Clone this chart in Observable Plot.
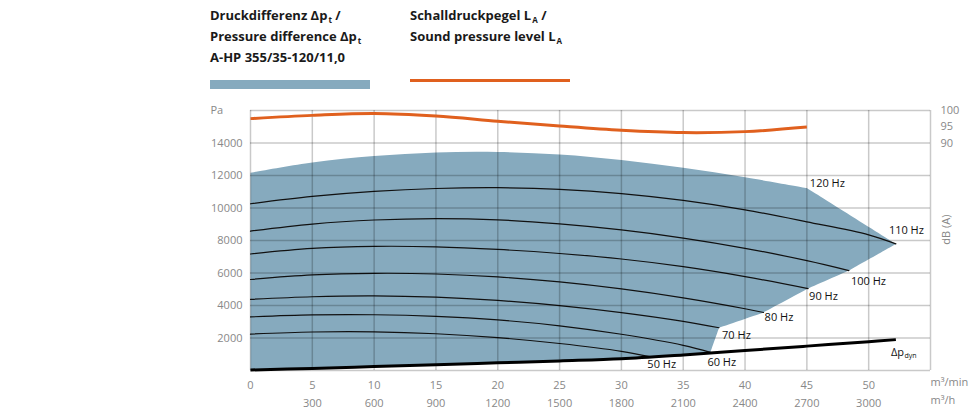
<!DOCTYPE html>
<html>
<head>
<meta charset="utf-8">
<script src="https://cdn.jsdelivr.net/npm/d3@7"></script>
<script src="https://cdn.jsdelivr.net/npm/@observablehq/plot@0.6"></script>
<style>
  body { margin: 0; background: #fff; font-family: "Open Sans", sans-serif; }
  #wrap { position: relative; width: 980px; height: 420px; overflow: hidden; }
  #legend { position: relative; width: 980px; height: 95px; }
  .lt { position: absolute; top: 5px; font-weight: 700; font-size: 13px; line-height: 21px; color: #1a1a1a; white-space: nowrap; }
  .sub { font-size: 8px; line-height: 0; position: relative; top: 3px; margin-left: 1px; }
  .swatch { position: absolute; }
</style>
</head>
<body>
<div id="wrap">
  <div id="legend">
    <div class="lt" style="left:210px">Druckdifferenz Δp<span class="sub">t</span> /<br>Pressure difference Δp<span class="sub">t</span><br>A-HP 355/35-120/11,0</div>
    <div class="swatch" style="left:210px;top:80px;width:160px;height:9px;background:#86aabe"></div>
    <div class="lt" style="left:410px">Schalldruckpegel L<span class="sub">A</span> /<br>Sound pressure level L<span class="sub">A</span></div>
    <div class="swatch" style="left:410px;top:79px;width:160px;height:3px;background:#e0601e"></div>
  </div>
  <div id="chart"></div>
</div>
<script>
// ---- data ----
const flow = [0, 5, 10, 15, 20, 25, 30, 35, 40, 45, 50];            // m³/min
const pa120 = [12170, 12800, 13200, 13420, 13450, 13290, 12950, 12470, 11890, 11230];
const pa110 = [10260, 10710, 11020, 11200, 11250, 11150, 10890, 10470, 9890, 9150, 8350];
const pa100 = [8580, 9010, 9260, 9350, 9270, 9020, 8650, 8150, 7520, 6760];
const pa90  = [7170, 7510, 7640, 7610, 7450, 7200, 6860, 6390, 5780];
const pa80  = [5600, 5880, 5980, 5940, 5760, 5450, 5020, 4470, 3800];
const pa70  = [4380, 4540, 4590, 4510, 4310, 3990, 3560, 3020];
const pa60  = [3300, 3420, 3430, 3330, 3110, 2750, 2230, 1550];
const pa50  = [2240, 2370, 2380, 2260, 2020, 1660, 1180];
const curveLabels = ["120 Hz", "110 Hz", "100 Hz", "90 Hz", "80 Hz", "70 Hz", "60 Hz", "50 Hz"];
const endFlow = [45, 52.2, 48.4, 45.1, 41.5, 37.9, 37.2, 32.3];
const endPa   = [11230, 7790, 6150, 5040, 3570, 2630, 1120, 850];
const dynFlow = [0, 5, 10, 15, 20, 25, 30, 35, 40, 45, 50, 52.2];
const dynPa   = [30, 130, 240, 350, 470, 590, 720, 960, 1230, 1500, 1770, 1900];
const dbFlow  = [0, 5, 10, 15, 20, 25, 30, 35, 40, 45];
const dbValues = [97.5, 98.5, 99.1, 98.3, 96.7, 95.2, 93.9, 93.2, 93.5, 94.9];
const xTicks = [0, 5, 10, 15, 20, 25, 30, 35, 40, 45, 50];
const xTicksH = [5, 10, 15, 20, 25, 30, 35, 40, 45, 50];
const yTicks = [2000, 4000, 6000, 8000, 10000, 12000, 14000];
const dbTicks = [90, 95, 100];
const gridXs = [0, 5, 10, 15, 20, 25, 30, 35, 40, 45, 50, 55];
const gridYs = [0, 2000, 4000, 6000, 8000, 10000, 12000, 14000, 16000];
const xDomain = [0, 55];
const yDomain = [0, 16000];

// label offsets (pixels) relative to curve end points
const labelOffsets = [[3, -5], [-7, -13], [2, 10.5], [1, 7.5], [1, 5], [3, 8], [-3, 10.5], [-2.5, 8]];

// ---- helpers ----
const dbToPa = d => 14000 + (d - 90) * 200;
const paToDb = p => 90 + (p - 14000) / 200;
function curvePoints(vals, i) {
  const pts = vals.map((v, k) => ({x: flow[k], y: v}));
  if (pts[pts.length - 1].x !== endFlow[i]) pts.push({x: endFlow[i], y: endPa[i]});
  return pts;
}
const curves = [pa110, pa100, pa90, pa80, pa70, pa60, pa50].map((v, j) => curvePoints(v, j + 1));
const dyn = dynFlow.map((x, k) => ({x, y: dynPa[k]}));
const db = dbFlow.map((x, k) => ({x, y: dbToPa(dbValues[k])}));

// envelope polygon: 120 Hz top (smooth), curve ends down the right side (corners doubled
// so the catmull-rom curve keeps them sharp), Δp_dyn back along the bottom
const corner = p => [p, {...p}];
const envelope = [
  ...pa120.slice(0, -1).map((v, k) => ({x: flow[k], y: v})),
  ...corner({x: endFlow[0], y: endPa[0]}),
  ...endFlow.slice(1, 7).flatMap((x, k) => corner({x, y: endPa[k + 1]})),
  ...dyn.filter(d => d.x < endFlow[6]).reverse().flatMap((d, k) => k === 0 ? corner(d) : [d]),
  ...corner(dyn[0])
];

const BLUE = "#86aabe", ORANGE = "#e0601e", GREY = "#888";

const marks = [
  Plot.line(envelope, {x: "x", y: "y", fill: BLUE, stroke: "none", curve: "catmull-rom"}),
  ...curves.map(c => Plot.line(c, {x: "x", y: "y", stroke: "#111", strokeWidth: 1.2, curve: "catmull-rom"})),
  Plot.axisX(xTicks, {anchor: "bottom", tickSize: 0, tickPadding: 11, fill: GREY, label: null, tickFormat: d => String(d)}),
  Plot.axisX(xTicksH, {anchor: "bottom", tickSize: 0, tickPadding: 29, fill: GREY, label: null, tickFormat: d => String(d * 60)}),
  Plot.axisY(yTicks, {anchor: "left", tickSize: 0, tickPadding: 8, fill: GREY, label: null, tickFormat: d => String(d)}),
  Plot.axisY(dbTicks.map(dbToPa), {anchor: "right", tickSize: 0, tickPadding: 10, fill: GREY, label: null, tickFormat: d => String(paToDb(d))}),
  Plot.ruleX(gridXs, {x: d => d, stroke: "#000", strokeOpacity: 0.21, strokeWidth: 1.5}),
  Plot.ruleY(gridYs, {y: d => d, stroke: "#000", strokeOpacity: 0.21, strokeWidth: 1.5}),
  Plot.line(dyn, {x: "x", y: "y", stroke: "#000", strokeWidth: 3, curve: "catmull-rom", strokeLinecap: "butt"}),
  Plot.line(db, {x: "x", y: "y", stroke: ORANGE, strokeWidth: 3, curve: "catmull-rom", strokeLinecap: "butt"}),
  Plot.text(["Pa"], {frameAnchor: "top-left", dx: -40, dy: -4, textAnchor: "start", fill: GREY}),
  Plot.text(["dB (A)"], {frameAnchor: "right", dx: 16, dy: -26, rotate: -90, fill: GREY}),
  Plot.text(["m³/min"], {frameAnchor: "bottom-right", dx: 0, dy: 15, textAnchor: "start", fill: GREY}),
  Plot.text(["m³/h"], {frameAnchor: "bottom-right", dx: 0, dy: 33, textAnchor: "start", fill: GREY}),
  ...curveLabels.map((t, i) => Plot.text([t], {
    x: () => endFlow[i], y: () => endPa[i], text: d => d,
    dx: labelOffsets[i][0], dy: labelOffsets[i][1], textAnchor: "start", fill: "#111"
  })),
  Plot.text(["Δp"], {x: () => dynFlow[dynFlow.length - 1], y: () => dynPa[dynPa.length - 1], text: d => d, dx: -5, dy: 13, textAnchor: "start", fill: "#111"}),
  Plot.text(["dyn"], {x: () => dynFlow[dynFlow.length - 1], y: () => dynPa[dynPa.length - 1], text: d => d, dx: 8.5, dy: 16, textAnchor: "start", fill: "#111", fontSize: 7})
];

const chart = Plot.plot({
  width: 980,
  height: 325,
  marginLeft: 250,
  marginRight: 50,
  marginTop: 15,
  marginBottom: 50,
  x: {domain: xDomain, axis: null},
  y: {domain: yDomain, axis: null},
  style: {fontFamily: "Open Sans, sans-serif", fontSize: "11px", color: GREY, background: "#fff", overflow: "visible"},
  marks
});
document.getElementById("chart").appendChild(chart);
</script>
</body>
</html>
